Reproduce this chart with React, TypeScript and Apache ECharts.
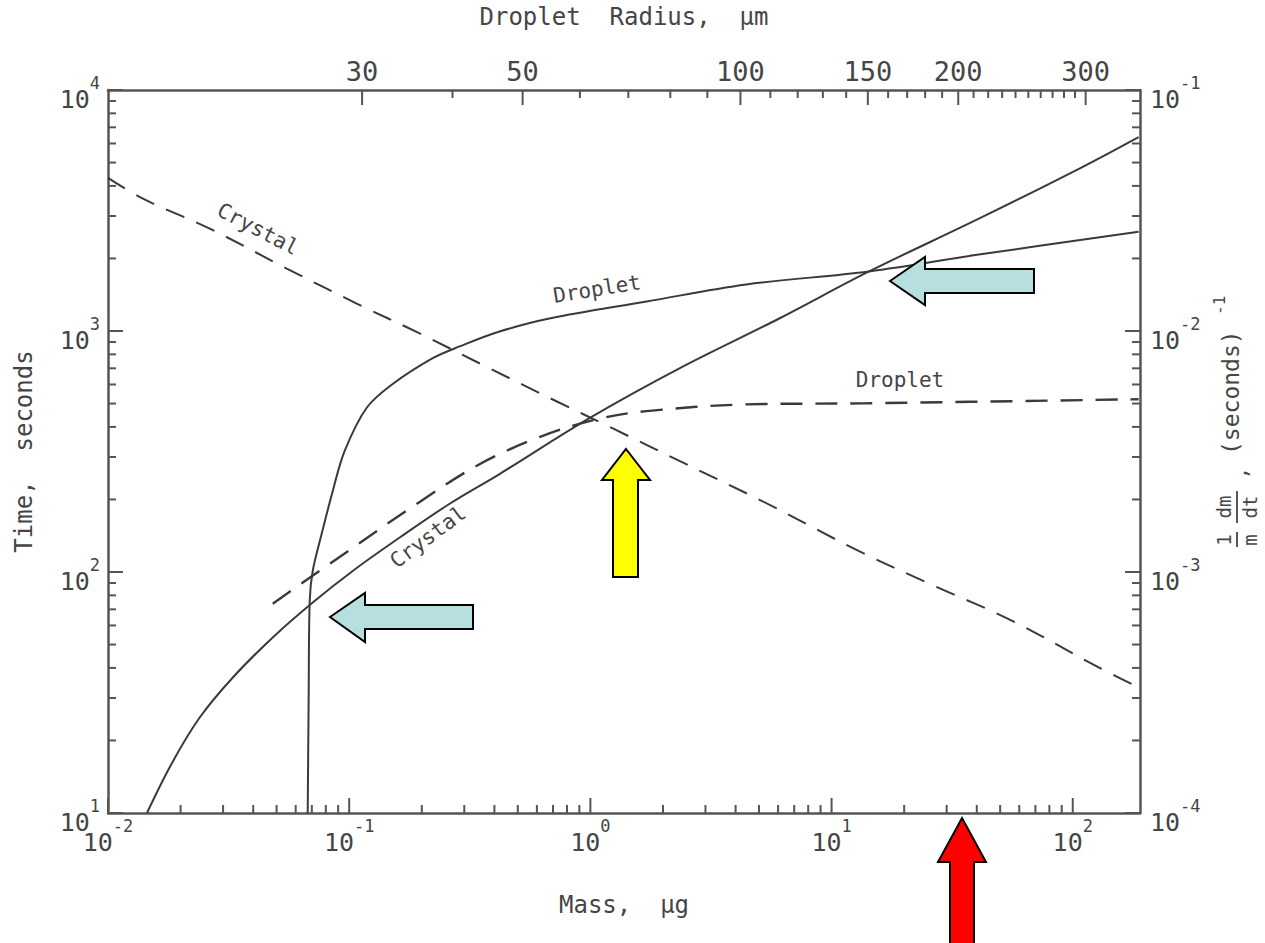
import React, { useEffect, useRef } from 'react';
import * as echarts from 'echarts';

// Time to grow to a given mass (left axis, seconds)
const crystalTimeMass = [0.0145, 0.0184, 0.024, 0.033, 0.0482, 0.0706, 0.1034, 0.162, 0.261, 0.42, 0.991, 2.34, 6.07, 14.3, 40.8, 106, 187.5];
const crystalTimeSec = [10, 16.1, 24.9, 36.6, 53.5, 74.7, 101, 139, 192, 255, 435, 700, 1127, 1766, 2925, 4710, 6380];
const dropletTimeMass = [0.0673, 0.0679, 0.0686, 0.0706, 0.0769, 0.0855, 0.0958, 0.118, 0.151, 0.222, 0.287, 0.42, 0.676, 1.71, 4.43, 14.3, 40.8, 187.5];
const dropletTimeSec = [10, 29, 76, 101, 144, 217, 318, 479, 601, 771, 863, 995, 1127, 1325, 1560, 1766, 2075, 2582];

// Relative growth rate (1/m)(dm/dt) (right axis, 1/s)
const crystalRateMass = [0.01, 0.01396, 0.0264, 0.0551, 0.1074, 0.196, 0.382, 0.723, 1.233, 2.34, 5.15, 13.0, 25.4, 55.8, 128, 187.5];
const crystalRate = [0.0432, 0.0354, 0.0266, 0.01816, 0.013, 0.00977, 0.007, 0.00511, 0.00395, 0.00289, 0.00197, 0.00122, 0.000895, 0.000629, 0.000402, 0.000332];
const dropletRateMass = [0.0482, 0.1005, 0.196, 0.347, 0.615, 1.059, 1.71, 4.43, 13.4, 187.5];
const dropletRate = [0.000739, 0.001235, 0.001954, 0.0028, 0.00363, 0.0043, 0.00465, 0.00496, 0.00501, 0.00521];

// Axis ranges and tick sets
const MASS_MIN = 0.01;
const MASS_MAX = 190;
const massDecades = [-2, -1, 0, 1, 2];
const timeDecades = [1, 2, 3, 4];
const rateDecades = [-4, -3, -2, -1];
const minorSteps = [1, 2, 3, 4, 5, 6, 7, 8, 9];
const radiusTicks = [30, 40, 50, 60, 70, 80, 90, 100, 110, 120, 130, 140, 150, 160, 170, 180, 190, 200, 210, 220, 230, 240, 250, 260, 270, 280, 290, 300];
const radiusLabels = [30, 50, 100, 150, 200, 300];

// droplet mass (μg) of a water sphere of radius r (μm)
const radiusToMass = (r: number) => (4 / 3) * Math.PI * Math.pow(r * 1e-4, 3) * 1e6;

const FONT = '"DejaVu Sans Mono", monospace';
const TXT = '#454545';
const LINE = '#3a3a3a';
const AXIS = '#555555';

const decadeTicks = (decades: number[], lo: number, hi: number) => {
  const out: number[][] = [];
  decades.forEach((d) => {
    minorSteps.forEach((k) => {
      const v = k * Math.pow(10, d);
      if (v >= lo * 0.9999 && v <= hi * 1.0001) out.push([v, k === 1 ? 1 : 0]);
    });
  });
  return out;
};

const supLabel = (v: number) => {
  const e = Math.log10(v);
  const r = Math.round(e);
  if (Math.abs(e - r) > 1e-6) return '';
  return `{b|10}{s|${r}}`;
};

const rich = {
  b: { fontSize: 25, fontFamily: FONT, color: TXT, lineHeight: 50 },
  s: { fontSize: 17, fontFamily: FONT, color: TXT, verticalAlign: 'top' },
};

const arrow = (points: number[][], fill: string) => ({
  type: 'polygon',
  z: 200,
  shape: { points },
  style: { fill, stroke: '#000', lineWidth: 2 },
});

const curveLabel = (text: string, x: number, y: number, rotation: number) => ({
  type: 'text',
  x,
  y,
  rotation,
  z: 50,
  style: { text, fontSize: 21, fontFamily: FONT, fill: TXT, align: 'center', verticalAlign: 'middle' },
});

const fracText = (text: string, x: number, y: number) => ({
  type: 'text',
  style: { text, x, y, fontSize: 19, fontFamily: FONT, fill: TXT, align: 'center', verticalAlign: 'middle' },
});

const curveSeries = (name: string, xs: number[], ys: number[], yAxisIndex: number, lineStyle: any) => ({
  type: 'line',
  name,
  xAxisIndex: 0,
  yAxisIndex,
  data: xs.map((m, i) => [m, ys[i]]),
  showSymbol: false,
  symbol: 'none',
  smooth: 0.35,
  lineStyle,
  z: 10,
});

export default function App() {
  const ref = useRef<HTMLDivElement>(null);

  useEffect(() => {
    if (!ref.current) return;
    const chart = echarts.init(ref.current, undefined, { renderer: 'svg' });

    const xTicks = decadeTicks(massDecades, MASS_MIN, MASS_MAX);
    const tTicks = decadeTicks(timeDecades, 10, 10000);
    const rTicks = decadeTicks(rateDecades, 1e-4, 1e-1);
    const labelSet = new Set(radiusLabels);

    const tickStyle = { stroke: AXIS, lineWidth: 2 };
    const titleStyle = { fontSize: 24, fontFamily: FONT, color: TXT };

    const option: any = {
      animation: false,
      backgroundColor: '#ffffff',
      grid: { left: 108, right: 125, top: 88, bottom: 130, containLabel: false },
      xAxis: [
        {
          type: 'log',
          logBase: 10,
          min: MASS_MIN,
          max: MASS_MAX,
          position: 'bottom',
          name: 'Mass,  μg',
          nameLocation: 'middle',
          nameGap: 80,
          nameTextStyle: titleStyle,
          axisLine: { show: true, lineStyle: { color: AXIS, width: 2.5 } },
          axisTick: { show: false },
          splitLine: { show: false },
          minorTick: { show: false },
          axisLabel: { formatter: supLabel, margin: 4, rich },
        },
        {
          type: 'log',
          logBase: 10,
          min: MASS_MIN,
          max: MASS_MAX,
          position: 'top',
          name: 'Droplet  Radius,  μm',
          nameLocation: 'middle',
          nameGap: 61,
          nameTextStyle: titleStyle,
          axisLine: { show: true, lineStyle: { color: AXIS, width: 2.5 } },
          axisTick: { show: false },
          splitLine: { show: false },
          axisLabel: { show: false },
        },
      ],
      yAxis: [
        {
          type: 'log',
          logBase: 10,
          min: 10,
          max: 10000,
          position: 'left',
          name: 'Time,  seconds',
          nameLocation: 'middle',
          nameGap: 72,
          nameRotate: 90,
          nameTextStyle: titleStyle,
          axisLine: { show: true, lineStyle: { color: AXIS, width: 2.5 } },
          axisTick: { show: false },
          splitLine: { show: false },
          axisLabel: { formatter: supLabel, margin: 8, padding: [18, 0, 0, 0], rich },
        },
        {
          type: 'log',
          logBase: 10,
          min: 1e-4,
          max: 1e-1,
          position: 'right',
          axisLine: { show: true, lineStyle: { color: AXIS, width: 2.5 } },
          axisTick: { show: false },
          splitLine: { show: false },
          axisLabel: { formatter: supLabel, margin: 10, padding: [18, 0, 0, 0], rich },
        },
      ],
      series: [
        curveSeries('Crystal time', crystalTimeMass, crystalTimeSec, 0, { color: LINE, width: 2 }),
        curveSeries('Droplet time', dropletTimeMass, dropletTimeSec, 0, { color: LINE, width: 2 }),
        curveSeries('Crystal rate', crystalRateMass, crystalRate, 1, { color: LINE, width: 2, type: [20, 13] }),
        curveSeries('Droplet rate', dropletRateMass, dropletRate, 1, { color: LINE, width: 2.4, type: [22, 13] }),
        // bottom (mass) ticks, drawn inward
        {
          type: 'custom',
          xAxisIndex: 0,
          yAxisIndex: 0,
          clip: false,
          silent: true,
          data: xTicks.map((t) => [t[0], 10, t[1]]),
          renderItem: (params: any, api: any) => {
            const x = api.coord([api.value(0), 10])[0];
            const cs = params.coordSys;
            const y0 = cs.y + cs.height;
            const len = api.value(2) ? 15 : 8;
            return { type: 'line', shape: { x1: x, y1: y0, x2: x, y2: y0 - len }, style: tickStyle };
          },
        },
        // left (time) ticks
        {
          type: 'custom',
          xAxisIndex: 0,
          yAxisIndex: 0,
          clip: false,
          silent: true,
          data: tTicks.map((t) => [MASS_MIN, t[0], t[1]]),
          renderItem: (params: any, api: any) => {
            const y = api.coord([MASS_MIN, api.value(1)])[1];
            const cs = params.coordSys;
            const len = api.value(2) ? 15 : 8;
            return { type: 'line', shape: { x1: cs.x, y1: y, x2: cs.x + len, y2: y }, style: tickStyle };
          },
        },
        // right (rate) ticks
        {
          type: 'custom',
          xAxisIndex: 0,
          yAxisIndex: 1,
          clip: false,
          silent: true,
          data: rTicks.map((t) => [MASS_MIN, t[0], t[1]]),
          renderItem: (params: any, api: any) => {
            const y = api.coord([MASS_MIN, api.value(1)])[1];
            const cs = params.coordSys;
            const x0 = cs.x + cs.width;
            const len = api.value(2) ? 15 : 8;
            return { type: 'line', shape: { x1: x0, y1: y, x2: x0 - len, y2: y }, style: tickStyle };
          },
        },
        // top (droplet radius) ticks and labels
        {
          type: 'custom',
          xAxisIndex: 1,
          yAxisIndex: 0,
          clip: false,
          silent: true,
          data: radiusTicks.map((r) => [radiusToMass(r), 10000, r]),
          renderItem: (params: any, api: any) => {
            const x = api.coord([api.value(0), 10000])[0];
            const cs = params.coordSys;
            const r = api.value(2);
            const major = labelSet.has(r);
            const len = major ? 15 : 8;
            const children: any[] = [
              { type: 'line', shape: { x1: x, y1: cs.y, x2: x, y2: cs.y + len }, style: tickStyle },
            ];
            if (major) {
              children.push({
                type: 'text',
                style: {
                  text: String(r),
                  x,
                  y: cs.y - 19,
                  fontSize: 27,
                  fontFamily: FONT,
                  fill: TXT,
                  align: 'center',
                  verticalAlign: 'middle',
                },
              });
            }
            return { type: 'group', children };
          },
        },
      ],
      graphic: [
        curveLabel('Crystal', 258, 229, -0.48),
        curveLabel('Droplet', 597, 289, 0.16),
        curveLabel('Droplet', 900, 380, 0),
        curveLabel('Crystal', 428, 537, 0.64),
        // right axis title: (1/m)(dm/dt), (seconds)^-1
        {
          type: 'group',
          x: 1237,
          y: 547,
          rotation: Math.PI / 2,
          children: [
            fracText('1', 7, -13),
            { type: 'line', shape: { x1: 0, y1: 0, x2: 15, y2: 0 }, style: { stroke: TXT, lineWidth: 1.8 } },
            fracText('m', 7, 13),
            fracText('dm', 40, -13),
            { type: 'line', shape: { x1: 24, y1: 0, x2: 56, y2: 0 }, style: { stroke: TXT, lineWidth: 1.8 } },
            fracText('dt', 40, 13),
            {
              type: 'text',
              style: { text: ',', x: 74, y: 2, fontSize: 22, fontFamily: FONT, fill: TXT, align: 'center', verticalAlign: 'middle' },
            },
            {
              type: 'text',
              style: { text: '(seconds)', x: 92, y: -6, fontSize: 23, fontFamily: FONT, fill: TXT, align: 'left', verticalAlign: 'middle' },
            },
            {
              type: 'text',
              style: { text: '-1', x: 232, y: -18, fontSize: 16, fontFamily: FONT, fill: TXT, align: 'left', verticalAlign: 'middle' },
            },
          ],
        },
        arrow([[330, 617], [365, 593], [365, 605], [473, 605], [473, 629], [365, 629], [365, 642]], '#b8dfe0'),
        arrow([[890, 281], [925, 257], [925, 269], [1034, 269], [1034, 293], [925, 293], [925, 305]], '#b8dfe0'),
        arrow([[626, 449], [650, 480], [638, 480], [638, 577], [613, 577], [613, 480], [602, 480]], '#ffff00'),
        arrow([[962, 818], [986, 862], [974, 862], [974, 952], [950, 952], [950, 862], [938, 862]], '#ff0000'),
      ],
    };

    chart.setOption(option);
    return () => chart.dispose();
  }, []);

  return (
    <div
      ref={ref}
      style={{ position: 'absolute', left: 0, top: 0, width: 1265, height: 943, background: '#fff' }}
    />
  );
}
